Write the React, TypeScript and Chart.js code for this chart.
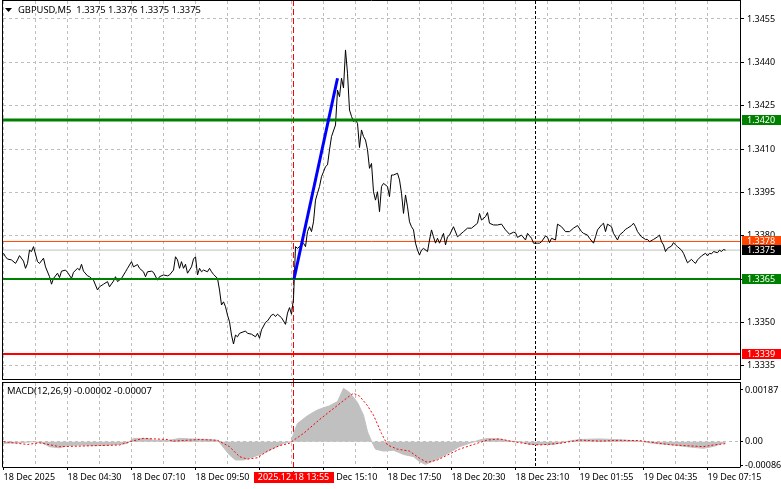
import React, { useEffect, useRef } from 'react';
import { Chart, registerables } from 'chart.js';

Chart.register(...registerables);

const FONT = '"Noto Sans", sans-serif';

// ---------- data ----------
const symbolTitle = 'GBPUSD,M5  1.3375 1.3376 1.3375 1.3375';
const macdTitle = 'MACD(12,26,9) -0.00002 -0.00007';

// bar index (M5 bars from the left edge) and close prices
const priceBars = [
  0, 1, 2, 4, 6, 7, 8, 10, 11, 12,
  13, 14, 15, 17, 18, 20, 21, 23, 24, 25,
  27, 28, 29, 31, 32, 34, 35, 37, 38, 39,
  40, 42, 43, 45, 47, 48, 50, 52, 53, 55,
  56, 57, 59, 61, 62, 64, 65, 67, 68, 70,
  71, 72, 74, 75, 77, 78, 80, 82, 83, 85,
  86, 87, 88, 89, 90, 91, 92, 94, 95, 96,
  97, 98, 99, 100, 102, 103, 104, 105, 107, 108,
  109, 110, 111, 112, 113, 114, 115, 116, 117, 118,
  121, 122, 124, 126, 127, 128, 129, 131, 132, 134,
  135, 136, 137, 139, 141, 142, 143, 144, 145, 146,
  147, 149, 150, 151, 152, 153, 154, 155, 156, 157,
  158, 159, 160, 161, 162, 163, 164, 166, 167, 168,
  169, 170, 171, 172, 173, 174, 175, 176, 177, 178,
  179, 180, 181, 182, 183, 184, 185, 186, 187, 188,
  189, 190, 192, 193, 194, 195, 197, 198, 199, 200,
  201, 202, 203, 204, 205, 206, 207, 208, 209, 210,
  212, 213, 214, 215, 216, 217, 218, 219, 220, 221,
  222, 223, 225, 227, 228, 230, 232, 234, 237, 238,
  239, 241, 242, 243, 245, 247, 249, 251, 253, 255,
  256, 257, 259, 261, 262, 264, 265, 267, 268, 269,
  271, 272, 273, 274, 276, 277, 279, 281, 283, 285,
  287, 289, 290, 292, 293, 295, 296, 297, 299, 300,
  301, 302, 304, 305, 307, 308, 310, 311, 312, 314,
  315, 316, 317, 319, 321, 322, 323, 325, 327, 328,
  329, 330, 331, 332, 334, 335, 336, 337, 339, 340,
  341, 342, 344, 345, 346, 347, 349, 351, 352, 353,
  354, 355, 357, 358, 359, 360, 361,
];
const priceCloses = [
  1.33739, 1.33727, 1.33719, 1.33716, 1.33704, 1.33716, 1.33731, 1.33712, 1.33687, 1.33704,
  1.33750, 1.33745, 1.33762, 1.33710, 1.33704, 1.33722, 1.33692, 1.33658, 1.33632, 1.33652,
  1.33670, 1.33655, 1.33677, 1.33681, 1.33673, 1.33652, 1.33673, 1.33687, 1.33681, 1.33701,
  1.33677, 1.33661, 1.33658, 1.33646, 1.33612, 1.33623, 1.33632, 1.33641, 1.33623, 1.33643,
  1.33658, 1.33641, 1.33652, 1.33675, 1.33687, 1.33710, 1.33692, 1.33700, 1.33687, 1.33675,
  1.33658, 1.33675, 1.33677, 1.33673, 1.33646, 1.33658, 1.33664, 1.33661, 1.33664, 1.33681,
  1.33727, 1.33716, 1.33687, 1.33710, 1.33687, 1.33701, 1.33670, 1.33692, 1.33719, 1.33727,
  1.33664, 1.33687, 1.33675, 1.33681, 1.33675, 1.33687, 1.33675, 1.33666, 1.33652, 1.33612,
  1.33560, 1.33571, 1.33554, 1.33525, 1.33502, 1.33456, 1.33425, 1.33456, 1.33450, 1.33462,
  1.33470, 1.33462, 1.33459, 1.33450, 1.33462, 1.33445, 1.33474, 1.33500, 1.33505, 1.33525,
  1.33528, 1.33520, 1.33528, 1.33516, 1.33493, 1.33532, 1.33551, 1.33528, 1.33583, 1.33762,
  1.33756, 1.33768, 1.33774, 1.33762, 1.33814, 1.33831, 1.33814, 1.33848, 1.33923, 1.33947,
  1.33970, 1.34004, 1.34021, 1.34039, 1.34045, 1.34097, 1.34143, 1.34183, 1.34304, 1.34281,
  1.34345, 1.34311, 1.34443, 1.34362, 1.34235, 1.34213, 1.34195, 1.34200, 1.34189, 1.34105,
  1.34166, 1.34143, 1.34131, 1.34097, 1.34033, 1.34050, 1.33952, 1.33923, 1.33952, 1.33883,
  1.33970, 1.33981, 1.33970, 1.33935, 1.34010, 1.34010, 1.34016, 1.33993, 1.33947, 1.33877,
  1.33941, 1.33900, 1.33848, 1.33831, 1.33820, 1.33774, 1.33750, 1.33733, 1.33750, 1.33756,
  1.33745, 1.33785, 1.33820, 1.33796, 1.33774, 1.33791, 1.33774, 1.33791, 1.33808, 1.33768,
  1.33796, 1.33802, 1.33831, 1.33796, 1.33802, 1.33814, 1.33826, 1.33826, 1.33843, 1.33877,
  1.33854, 1.33866, 1.33880, 1.33843, 1.33837, 1.33837, 1.33840, 1.33820, 1.33805, 1.33812,
  1.33810, 1.33794, 1.33802, 1.33785, 1.33808, 1.33791, 1.33774, 1.33774, 1.33774, 1.33779,
  1.33799, 1.33794, 1.33776, 1.33791, 1.33785, 1.33840, 1.33831, 1.33814, 1.33814, 1.33826,
  1.33835, 1.33814, 1.33808, 1.33802, 1.33791, 1.33774, 1.33796, 1.33820, 1.33837, 1.33843,
  1.33814, 1.33840, 1.33831, 1.33808, 1.33785, 1.33802, 1.33814, 1.33822, 1.33826, 1.33835,
  1.33843, 1.33831, 1.33814, 1.33796, 1.33787, 1.33787, 1.33779, 1.33787, 1.33796, 1.33802,
  1.33779, 1.33768, 1.33745, 1.33756, 1.33764, 1.33776, 1.33768, 1.33762, 1.33750, 1.33739,
  1.33722, 1.33706, 1.33718, 1.33710, 1.33704, 1.33716, 1.33730, 1.33739, 1.33730, 1.33739,
  1.33737, 1.33745, 1.33741, 1.33750, 1.33745, 1.33752, 1.33750,
];

// MACD main (histogram) and signal
const histBars = [
  0, 7, 15, 20, 23, 28, 32, 38, 48, 57,
  62, 65, 72, 75, 83, 88, 93, 103, 107, 109,
  113, 116, 120, 125, 130, 135, 140, 144, 145, 147,
  152, 157, 163, 167, 170, 173, 177, 180, 182, 184,
  186, 190, 195, 200, 205, 208, 211, 217, 222, 228,
  233, 238, 242, 248, 253, 258, 263, 275, 282, 288,
  298, 308, 318, 325, 335, 343, 350, 355, 361,
];
const histValues = [
  -0.00006, -0.00004, 0, -0.00006, -0.00018, -0.00022, -0.00014, -0.00012, -0.00014, -0.0001,
  -0.00006, 0.00012, 0.00012, 0.00005, 0.00005, 0.00012, 0.0001, 0.00008, 0.00005, -0.00012,
  -0.00048, -0.00066, -0.00066, -0.00055, -0.00042, -0.00024, -0.00006, 0, 0.0003, 0.00066,
  0.00094, 0.00115, 0.0013, 0.00145, 0.00193, 0.00178, 0.00142, 0.00096, 0.00036, 0.00002,
  -0.00027, -0.00034, -0.00031, -0.00046, -0.00054, -0.00072, -0.00082, -0.00063, -0.00043, -0.00018,
  -0.00006, 0.00006, 0.00012, 0.0001, 0.00002, 0, -0.0001, -0.0001, 0.00001, 0.00008,
  0.0001, 0.00007, 0.00002, -0.00006, -0.00012, -0.00019, -0.00024, -0.00017, -0.00002,
];
const signalBars = [
  0, 12, 18, 28, 48, 58, 63, 70, 82, 85,
  98, 107, 113, 118, 122, 127, 132, 138, 143, 145,
  150, 158, 165, 172, 175, 178, 182, 185, 189, 192,
  197, 203, 208, 212, 217, 222, 228, 235, 242, 248,
  255, 262, 268, 278, 288, 298, 308, 318, 328, 335,
  345, 350, 355, 361,
];
const signalValues = [
  0, -0.0001, -0.00004, -0.00018, -0.00014, -0.00012, 0, 0.00012, 0.00008, 0.00002,
  0.00008, 0.00005, -0.00018, -0.00054, -0.00063, -0.00058, -0.00034, -0.00014, -0.00006, 0.00005,
  0.0003, 0.0008, 0.0012, 0.0016, 0.00175, 0.00165, 0.0013, 0.00096, 0.0003, -0.00012,
  -0.00027, -0.00034, -0.0006, -0.00075, -0.00066, -0.00048, -0.00027, -0.0001, 0.00006, 0.0001,
  0, -0.00008, -0.00012, -0.00006, 0.00006, 0.00002, 0.00005, 0.00004, -0.00006, -0.00012,
  -0.00016, -0.00018, -0.00012, -0.00007,
];

// axis ticks
const priceTicks = [1.3335, 1.335, 1.3365, 1.338, 1.3395, 1.341, 1.3425, 1.344, 1.3455];
const macdTicks = [-0.00086, 0, 0.00187];
const timeGridBars = [0, 16, 32, 48, 64, 80, 96, 112, 128, 144, 160, 176, 192, 208, 224, 240, 256, 272, 288, 304, 320, 336, 352];
const timeLabelBars = [0, 32, 64, 96, 128, 160, 192, 224, 256, 288, 320, 352];
const timeLabels = [
  '18 Dec 2025', '18 Dec 04:30', '18 Dec 07:10', '18 Dec 09:50', '18 Dec 12:30', '18 Dec 15:10',
  '18 Dec 17:50', '18 Dec 20:30', '18 Dec 23:10', '19 Dec 01:55', '19 Dec 04:35', '19 Dec 07:15',
];

// drawn objects
const trendBars = [145.25, 167];
const trendPrices = [1.3365, 1.34345];
const resistancePrice = 1.342;
const supportPrice = 1.3365;
const stopPrice = 1.3339;
const askPrice = 1.3378;
const bidPrice = 1.3375;
const selectedBar = 145;
const selectedTimeLabel = '2025.12.18 13:55';
const daySeparatorBar = 266;

// view ranges
const X_MIN = -0.25;
const X_MAX = 368.25;
const P_MIN = 1.333004;
const P_MAX = 1.346123;
const M_MIN = -0.000915;
const M_MAX = 0.002123;

const GRID = '#BEBEBE';

const zeroPad = (s: any) => {
  s.paddingTop = 0;
  s.paddingBottom = 0;
  s.paddingLeft = 0;
  s.paddingRight = 0;
};

const hLine = (price: number) => [
  { x: X_MIN, y: price },
  { x: X_MAX, y: price },
];

function vMarkers(ctx: CanvasRenderingContext2D, chart: any, redTop: number, redBottom: number) {
  const x = chart.scales.x;
  const a = chart.chartArea;
  ctx.save();
  ctx.lineWidth = 1;
  ctx.strokeStyle = '#FF0000';
  ctx.setLineDash([6, 3]);
  const rx = Math.floor(x.getPixelForValue(selectedBar)) + 0.5;
  ctx.beginPath();
  ctx.moveTo(rx, redTop);
  ctx.lineTo(rx, redBottom);
  ctx.stroke();
  ctx.strokeStyle = '#000000';
  ctx.setLineDash([3, 2]);
  const bx = Math.floor(x.getPixelForValue(daySeparatorBar)) + 0.5;
  ctx.beginPath();
  ctx.moveTo(bx, a.top);
  ctx.lineTo(bx, a.bottom);
  ctx.stroke();
  ctx.restore();
}

const mainDecor = {
  id: 'mainDecor',
  beforeDatasetsDraw(chart: any) {
    vMarkers(chart.ctx, chart, 0, chart.height);
  },
  afterDraw(chart: any) {
    const { ctx, chartArea: a, scales } = chart;
    const y = scales.y;
    ctx.save();
    // frame
    ctx.strokeStyle = '#000';
    ctx.lineWidth = 1;
    ctx.setLineDash([]);
    ctx.beginPath();
    ctx.moveTo(a.left - 0.5, 0);
    ctx.lineTo(a.left - 0.5, a.bottom);
    ctx.moveTo(a.left - 0.5, 0.5);
    ctx.lineTo(a.right + 0.5, 0.5);
    ctx.moveTo(a.left - 0.5, a.bottom - 0.5);
    ctx.lineTo(a.right + 0.5, a.bottom - 0.5);
    ctx.moveTo(a.right + 0.5, 0);
    ctx.lineTo(a.right + 0.5, a.bottom);
    ctx.stroke();

    // title
    ctx.fillStyle = '#000';
    ctx.beginPath();
    ctx.moveTo(5, 8);
    ctx.lineTo(12, 8);
    ctx.lineTo(8.5, 12);
    ctx.closePath();
    ctx.fill();
    ctx.font = `9.4px ${FONT}`;
    ctx.textBaseline = 'middle';
    ctx.textAlign = 'left';
    ctx.fillText(symbolTitle, 18, 10.5);

    // price tags
    ctx.font = `9px ${FONT}`;
    const tags = [
      { p: askPrice, bg: '#FF4500' },
      { p: bidPrice, bg: '#000000' },
      { p: resistancePrice, bg: '#008000' },
      { p: supportPrice, bg: '#008000' },
      { p: stopPrice, bg: '#FF0000' },
    ];
    tags.forEach((t) => {
      const py = Math.round(y.getPixelForValue(t.p));
      ctx.fillStyle = t.bg;
      ctx.fillRect(a.right + 2, py - 5, chart.width - a.right - 2, 10);
      ctx.fillStyle = '#FFFFFF';
      ctx.fillText(t.p.toFixed(4), a.right + 7, py + 0.5);
    });
    ctx.restore();
  },
};

const macdDecor = {
  id: 'macdDecor',
  beforeDatasetsDraw(chart: any) {
    vMarkers(chart.ctx, chart, 0, 91);
  },
  afterDraw(chart: any) {
    const { ctx, chartArea: a, scales } = chart;
    ctx.save();
    ctx.strokeStyle = '#000';
    ctx.lineWidth = 1;
    ctx.setLineDash([]);
    ctx.beginPath();
    ctx.moveTo(a.left - 0.5, 1);
    ctx.lineTo(a.left - 0.5, a.bottom);
    ctx.moveTo(a.left - 0.5, 1.5);
    ctx.lineTo(a.right + 0.5, 1.5);
    ctx.moveTo(a.left - 0.5, a.bottom + 0.5);
    ctx.lineTo(a.right + 0.5, a.bottom + 0.5);
    ctx.moveTo(a.right + 0.5, 1);
    ctx.lineTo(a.right + 0.5, a.bottom);
    ctx.stroke();

    ctx.fillStyle = '#000';
    ctx.font = `9.4px ${FONT}`;
    ctx.textBaseline = 'middle';
    ctx.textAlign = 'left';
    ctx.fillText(macdTitle, 7, 10.5);

    ctx.font = `9px ${FONT}`;
    const cx = scales.x.getPixelForValue(selectedBar);
    ctx.fillStyle = '#FF0000';
    ctx.fillRect(Math.round(cx) - 40, 91, 80, 11);
    ctx.fillStyle = '#FFFFFF';
    ctx.textAlign = 'center';
    ctx.fillText(selectedTimeLabel, cx, 96.8);
    ctx.restore();
  },
};

export default function App() {
  const mainRef = useRef<HTMLCanvasElement>(null);
  const macdRef = useRef<HTMLCanvasElement>(null);

  useEffect(() => {
    const tickFont = { family: FONT, size: 9 };

    const mainChart = new Chart(mainRef.current as HTMLCanvasElement, {
      type: 'line',
      data: {
        datasets: [
          {
            data: priceBars.map((b, i) => ({ x: b, y: priceCloses[i] })),
            borderColor: '#000000',
            borderWidth: 1,
            pointRadius: 0,
            tension: 0,
            order: 2,
          },
          { data: hLine(askPrice), borderColor: '#FF4500', borderWidth: 1, pointRadius: 0, order: 3 },
          { data: hLine(bidPrice), borderColor: '#C0C0C0', borderWidth: 1, pointRadius: 0, order: 3 },
          { data: hLine(resistancePrice), borderColor: '#008000', borderWidth: 3, pointRadius: 0, order: 1 },
          { data: hLine(supportPrice), borderColor: '#008000', borderWidth: 2, pointRadius: 0, order: 1 },
          { data: hLine(stopPrice), borderColor: '#FF0000', borderWidth: 2, pointRadius: 0, order: 1 },
          {
            data: trendBars.map((b, i) => ({ x: b, y: trendPrices[i] })),
            borderColor: '#0000FF',
            borderWidth: 3,
            pointRadius: 0,
            order: 0,
          },
        ],
      },
      options: {
        animation: false,
        responsive: false,
        events: [],
        layout: { padding: { left: 3, right: 0, top: 1, bottom: 1 }, autoPadding: false },
        plugins: { legend: { display: false }, tooltip: { enabled: false } },
        scales: {
          x: {
            type: 'linear',
            min: X_MIN,
            max: X_MAX,
            afterBuildTicks: (s: any) => {
              s.ticks = timeGridBars.map((v) => ({ value: v }));
            },
            afterFit: (s: any) => {
              s.height = 0;
              zeroPad(s);
            },
            ticks: { display: false },
            grid: { color: GRID, drawTicks: false, lineWidth: 1 },
            border: { display: false, dash: [3, 3] },
          },
          y: {
            type: 'linear',
            position: 'right',
            min: P_MIN,
            max: P_MAX,
            afterBuildTicks: (s: any) => {
              s.ticks = priceTicks.map((v) => ({ value: v }));
            },
            afterFit: (s: any) => {
              s.width = 41;
              zeroPad(s);
            },
            ticks: {
              autoSkip: false,
              font: tickFont,
              color: '#000000',
              padding: 3,
              callback: (v: any) => Number(v).toFixed(4),
            },
            grid: { color: GRID, tickColor: '#000000', tickLength: 4, tickBorderDash: [] },
            border: { display: false, dash: [3, 3] },
          },
        },
      } as any,
      plugins: [mainDecor],
    });

    const macdChart = new Chart(macdRef.current as HTMLCanvasElement, {
      type: 'line',
      data: {
        datasets: [
          {
            data: signalBars.map((b, i) => ({ x: b, y: signalValues[i] })),
            borderColor: '#FF0000',
            borderWidth: 1,
            borderDash: [2, 2],
            pointRadius: 0,
            order: 0,
          },
          {
            data: histBars.map((b, i) => ({ x: b, y: histValues[i] })),
            borderColor: '#C0C0C0',
            backgroundColor: '#C0C0C0',
            borderWidth: 1,
            fill: 'origin',
            pointRadius: 0,
            order: 1,
          },
        ],
      },
      options: {
        animation: false,
        responsive: false,
        events: [],
        layout: { padding: { left: 3, right: 0, top: 2, bottom: 0 }, autoPadding: false },
        plugins: { legend: { display: false }, tooltip: { enabled: false } },
        scales: {
          x: {
            type: 'linear',
            min: X_MIN,
            max: X_MAX,
            afterBuildTicks: (s: any) => {
              s.ticks = timeGridBars.map((v) => ({ value: v }));
            },
            afterFit: (s: any) => {
              s.height = 22;
              zeroPad(s);
            },
            ticks: {
              autoSkip: false,
              maxRotation: 0,
              minRotation: 0,
              align: 'start',
              padding: 2,
              font: tickFont,
              color: '#000000',
              callback: (v: any) => {
                const k = timeLabelBars.indexOf(Number(v));
                return k >= 0 ? timeLabels[k] : '';
              },
            },
            grid: {
              color: GRID,
              tickLength: 3,
              tickBorderDash: [],
              tickColor: (c: any) =>
                c.tick && timeLabelBars.indexOf(c.tick.value) >= 0 ? '#000000' : 'rgba(0,0,0,0)',
            },
            border: { display: false, dash: [3, 3] },
          },
          y: {
            type: 'linear',
            position: 'right',
            min: M_MIN,
            max: M_MAX,
            afterBuildTicks: (s: any) => {
              s.ticks = macdTicks.map((v) => ({ value: v }));
            },
            afterFit: (s: any) => {
              s.width = 41;
              zeroPad(s);
            },
            ticks: {
              autoSkip: false,
              font: tickFont,
              color: '#000000',
              padding: 2,
              callback: (v: any) => (Number(v) === 0 ? '0.00' : Number(v).toFixed(5)),
            },
            grid: {
              color: (c: any) => (c.tick && c.tick.value === 0 ? GRID : 'rgba(0,0,0,0)'),
              tickColor: '#000000',
              tickLength: 3,
              tickBorderDash: [],
            },
            border: { display: false, dash: [3, 3] },
          },
        },
      } as any,
      plugins: [macdDecor],
    });

    return () => {
      mainChart.destroy();
      macdChart.destroy();
    };
  }, []);

  return (
    <div style={{ position: 'fixed', left: 0, top: 0, width: 781, height: 489, background: '#FFFFFF' }}>
      <canvas ref={mainRef} width={781} height={381} style={{ position: 'absolute', left: 0, top: 0 }} />
      <canvas ref={macdRef} width={781} height={108} style={{ position: 'absolute', left: 0, top: 381 }} />
    </div>
  );
}
